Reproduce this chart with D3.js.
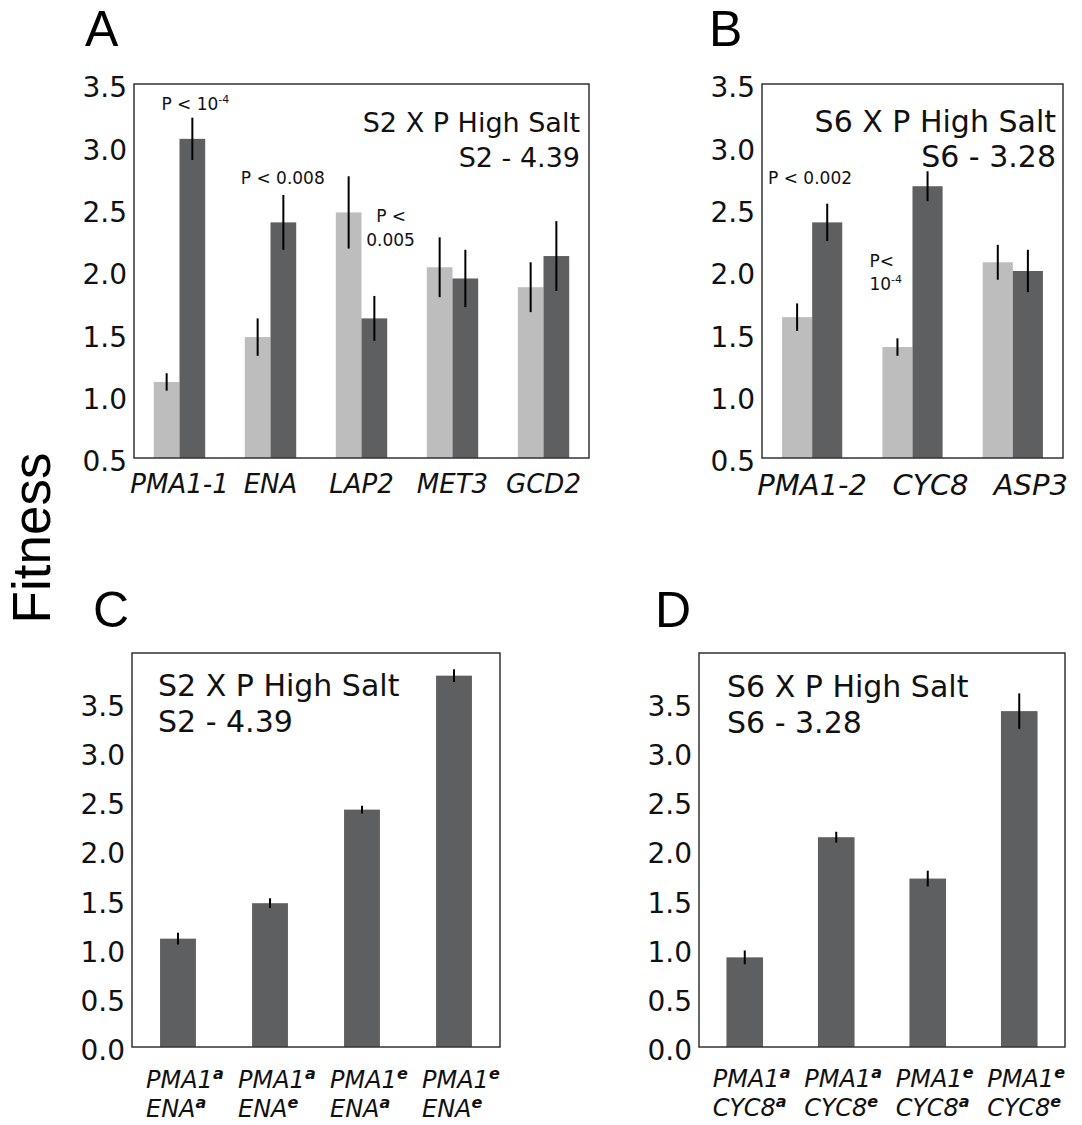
<!DOCTYPE html>
<html>
<head>
<meta charset="utf-8">
<script src="https://cdn.jsdelivr.net/npm/d3@7"></script>
<style>
  body { margin: 0; background: #fff; }
  text { font-family: "DejaVu Sans", Verdana, sans-serif; }
</style>
</head>
<body>
<svg id="fig" width="1082" height="1125"></svg>
<script>
// ---- data ----
const genesA = ["PMA1-1", "ENA", "LAP2", "MET3", "GCD2"];
const lightA = [1.11, 1.47, 2.47, 2.03, 1.87];
const lightErrA = [0.07, 0.15, 0.29, 0.24, 0.20];
const darkA = [3.06, 2.39, 1.62, 1.94, 2.12];
const darkErrA = [0.17, 0.22, 0.18, 0.23, 0.28];

const genesB = ["PMA1-2", "CYC8", "ASP3"];
const lightB = [1.63, 1.39, 2.07];
const lightErrB = [0.11, 0.07, 0.14];
const darkB = [2.39, 2.68, 2.00];
const darkErrB = [0.15, 0.12, 0.17];

const allelesC = [["a", "a"], ["a", "e"], ["e", "a"], ["e", "e"]];
const valuesC = [1.10, 1.46, 2.41, 3.77];
const errC = [0.06, 0.05, 0.04, 0.065];

const allelesD = [["a", "a"], ["a", "e"], ["e", "a"], ["e", "e"]];
const valuesD = [0.91, 2.13, 1.71, 3.41];
const errD = [0.07, 0.055, 0.08, 0.18];

const ticksAB = [0.5, 1.0, 1.5, 2.0, 2.5, 3.0, 3.5];
const ticksCD = [0.0, 0.5, 1.0, 1.5, 2.0, 2.5, 3.0, 3.5];

const LIGHT = "#bdbdbd";
const DARK = "#5e5f61";

const svg = d3.select("#fig");
svg.append("rect").attr("width", 1082).attr("height", 1125).attr("fill", "#fff");

function drawPanel(p) {
    var g = svg.append("g");

    var x = d3.scaleBand()
              .domain(p.cats)
              .range([p.left, p.right])
              .paddingInner(p.pad)
              .paddingOuter(p.pad / 2);

    var sub = d3.scaleBand()
                .domain(d3.range(p.series.length))
                .range([0, x.bandwidth()]);

    var y = d3.scaleLinear()
              .domain(p.yDomain)
              .range([p.bottom, p.top]);

    p.series.forEach((s, si) => {
        g.append("g")
         .selectAll("rect")
         .data(s.vals)
         .join("rect")
         .attr("x", (d, i) => x(p.cats[i]) + sub(si))
         .attr("y", d => y(d))
         .attr("width", sub.bandwidth())
         .attr("height", d => y(p.yDomain[0]) - y(d))
         .attr("fill", s.color);
    });

    p.series.forEach((s, si) => {
        g.append("g")
         .selectAll("line")
         .data(s.vals)
         .join("line")
         .attr("x1", (d, i) => x(p.cats[i]) + sub(si) + sub.bandwidth() / 2)
         .attr("x2", (d, i) => x(p.cats[i]) + sub(si) + sub.bandwidth() / 2)
         .attr("y1", (d, i) => y(d + s.errs[i]))
         .attr("y2", (d, i) => y(d - s.errs[i]))
         .attr("stroke", "#000")
         .attr("stroke-width", 2);
    });

    // frame
    g.append("rect")
     .attr("x", p.left).attr("y", p.top)
     .attr("width", p.right - p.left)
     .attr("height", p.bottom - p.top)
     .attr("fill", "none")
     .attr("stroke", "#333")
     .attr("stroke-width", 1.5);

    var yAxis = g.append("g")
                 .attr("transform", `translate(${p.left},0)`)
                 .call(d3.axisLeft(y).tickValues(p.ticks).tickFormat(d3.format(".1f")).tickSize(0).tickPadding(7))
                 .attr("font-family", "DejaVu Sans")
                 .attr("font-size", 28);
    yAxis.select(".domain").remove();
    yAxis.selectAll("text").attr("fill", "#111").attr("dy", "0.46em");

    return { x: x, y: y, g: g };
}

// ---- Panel A ----
var A = drawPanel({
    cats: genesA, left: 134, right: 589, top: 84, bottom: 458,
    yDomain: [0.5, 3.5], ticks: ticksAB, pad: 0.435,
    series: [{ vals: lightA, errs: lightErrA, color: LIGHT },
             { vals: darkA, errs: darkErrA, color: DARK }]
});
A.g.selectAll(".xl").data(genesA).join("text")
 .attr("x", d => A.x(d) + A.x.bandwidth() / 2)
 .attr("y", 493)
 .attr("text-anchor", "middle")
 .attr("font-size", 26)
 .attr("font-style", "italic")
 .attr("fill", "#111")
 .text(d => d);

// ---- Panel B ----
var B = drawPanel({
    cats: genesB, left: 762, right: 1063, top: 84, bottom: 458,
    yDomain: [0.5, 3.5], ticks: ticksAB, pad: 0.4,
    series: [{ vals: lightB, errs: lightErrB, color: LIGHT },
             { vals: darkB, errs: darkErrB, color: DARK }]
});
B.g.selectAll(".xl").data(genesB).join("text")
 .attr("x", d => B.x(d) + B.x.bandwidth() / 2 + (d === "PMA1-2" ? 0 : 18))
 .attr("y", 495)
 .attr("text-anchor", "middle")
 .attr("font-size", 29)
 .attr("font-style", "italic")
 .attr("fill", "#111")
 .text(d => d);

// ---- Panel C ----
var catsC = allelesC.map((d, i) => "c" + i);
var C = drawPanel({
    cats: catsC, left: 132, right: 500, top: 653, bottom: 1047,
    yDomain: [0, 4], ticks: ticksCD, pad: 0.61,
    series: [{ vals: valuesC, errs: errC, color: DARK }]
});

// ---- Panel D ----
var catsD = allelesD.map((d, i) => "d" + i);
var D = drawPanel({
    cats: catsD, left: 699, right: 1065, top: 653, bottom: 1047,
    yDomain: [0, 4], ticks: ticksCD, pad: 0.6,
    series: [{ vals: valuesD, errs: errD, color: DARK }]
});

function genotypeLabels(P, cats, alleles, second, y1, y2) {
    cats.forEach((c, i) => {
        var x0 = P.x(c) + P.x.bandwidth() / 2 - 32;
        [["PMA1", alleles[i][0], y1], [second, alleles[i][1], y2]].forEach(r => {
            var t = P.g.append("text")
                       .attr("x", x0).attr("y", r[2])
                       .attr("font-size", 24)
                       .attr("font-style", "italic")
                       .attr("fill", "#111");
            t.append("tspan").text(r[0]);
            t.append("tspan").attr("dy", -9).attr("font-size", 16).attr("font-weight", "bold").text(r[1]);
        });
    });
}
genotypeLabels(C, catsC, allelesC, "ENA", 1088, 1117);
genotypeLabels(D, catsD, allelesD, "CYC8", 1087, 1116);

// ---- titles inside panels ----
function title(lines, x, ys, anchor, size) {
    lines.forEach((t, i) => {
        svg.append("text")
           .attr("x", x).attr("y", ys[i])
           .attr("text-anchor", anchor)
           .attr("font-size", size)
           .attr("fill", "#111")
           .text(t);
    });
}
title(["S2 X P High Salt", "S2 - 4.39"], 580, [132, 167], "end", 27);
title(["S6 X P High Salt", "S6 - 3.28"], 1056, [132, 167], "end", 30);
title(["S2 X P High Salt", "S2 - 4.39"], 158, [696, 732], "start", 30);
title(["S6 X P High Salt", "S6 - 3.28"], 727, [697, 733], "start", 30);

// ---- p-value notes ----
function note(P, x, v, parts, anchor) {
    var t = P.g.append("text")
               .attr("x", x).attr("y", P.y(v))
               .attr("text-anchor", anchor || "start")
               .attr("font-size", 17)
               .attr("fill", "#111");
    t.append("tspan").text(parts[0]);
    if (parts[1]) t.append("tspan").attr("dy", -7).attr("font-size", 11).text(parts[1]);
}
var bwA = A.x.bandwidth();
note(A, A.x("PMA1-1") + bwA * 0.75 + 3, 3.29, ["P < 10", "-4"], "middle");
note(A, A.x("ENA") - 4, 2.70, ["P < 0.008"]);
note(A, A.x("LAP2") + bwA - 11, 2.39, ["P <"]);
note(A, A.x("LAP2") + bwA - 21, 2.20, ["0.005"]);
note(B, B.x("PMA1-2") - 14, 2.70, ["P < 0.002"]);
note(B, B.x("CYC8") - 13, 2.03, ["P<"]);
note(B, B.x("CYC8") - 13, 1.85, ["10", "-4"]);

// ---- panel letters and shared y label ----
[["A", 85, 46], ["B", 709, 46], ["C", 93, 627], ["D", 655, 627]].forEach(l => {
    svg.append("text")
       .attr("x", l[1]).attr("y", l[2])
       .style("font-family", "'Liberation Sans', Arial, sans-serif")
       .attr("font-size", 50)
       .attr("fill", "#000")
       .text(l[0]);
});

svg.append("text")
   .attr("transform", "translate(50,538) rotate(-90)")
   .attr("text-anchor", "middle")
   .style("font-family", "'Liberation Sans', Arial, sans-serif")
   .attr("font-size", 53)
   .attr("fill", "#000")
   .text("Fitness");
</script>
</body>
</html>
